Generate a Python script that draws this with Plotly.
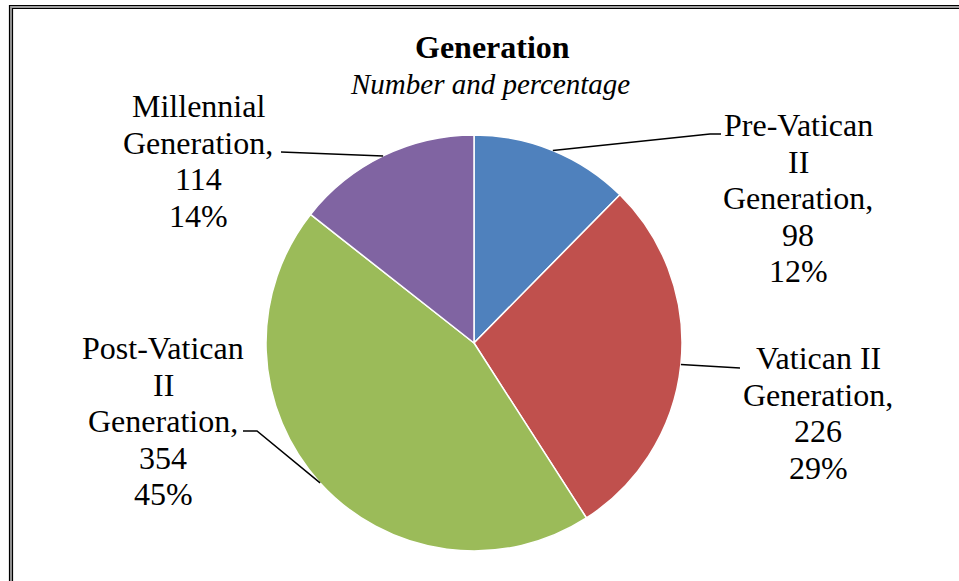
import math
import plotly.graph_objects as go

# ---- data ----
categories = ["Pre-Vatican II Generation", "Vatican II Generation",
              "Post-Vatican II Generation", "Millennial Generation"]
values = [98, 226, 354, 114]
percents = ["12%", "29%", "45%", "14%"]
label_lines = [
    ["Pre-Vatican", "II", "Generation,"],
    ["Vatican II", "Generation,"],
    ["Post-Vatican", "II", "Generation,"],
    ["Millennial", "Generation,"],
]
colors = ["#4F81BD", "#C0504D", "#9BBB59", "#8064A2"]

W, H = 959, 581
FONT = "Liberation Serif, Times New Roman, serif"

# pie geometry (screen pixels)
CX, CY, R = 474, 343, 208

def px(x):
    return x / W

def py(y):
    return 1 - y / H

fig = go.Figure()
fig.add_trace(go.Pie(
    labels=categories, values=values, sort=False, direction="clockwise",
    rotation=0, textinfo="none", showlegend=False,
    marker=dict(colors=colors, line=dict(color="white", width=1.5)),
    domain=dict(x=[px(CX - R), px(CX + R)], y=[py(CY + R), py(CY - R)]),
))

# label layout: (center x, first line y, elbow point, end point)
label_pos = [
    dict(x=798, y=125, elbow=(710, 134), end=(721, 134)),
    dict(x=818, y=358, elbow=(740, 368), end=(740, 368)),
    dict(x=163, y=348, elbow=(257, 431), end=(243, 431)),
    dict(x=198, y=106, elbow=(281, 152), end=(281, 152)),
]
LINE_H = 36.6

annotations = []
shapes = []
total = sum(values)
cum = 0
for i, v in enumerate(values):
    mid = (cum + v / 2) / total * 2 * math.pi
    cum += v
    ex = CX + R * math.sin(mid)
    ey = CY - R * math.cos(mid)
    lp = label_pos[i]
    lines = label_lines[i] + [str(v), percents[i]]
    for k, t in enumerate(lines):
        annotations.append(dict(
            x=px(lp["x"]), y=py(lp["y"] + k * LINE_H), xref="paper", yref="paper",
            text=t, showarrow=False, xanchor="center", yanchor="middle",
            font=dict(family=FONT, size=32, color="black")))
    pts = [(ex, ey), lp["elbow"], lp["end"]]
    path = "M {} {}".format(px(pts[0][0]), py(pts[0][1]))
    for p in pts[1:]:
        path += " L {} {}".format(px(p[0]), py(p[1]))
    shapes.append(dict(type="path", path=path, xref="paper", yref="paper",
                       line=dict(color="black", width=1.5)))

# title
annotations.append(dict(x=px(492), y=py(47), xref="paper", yref="paper",
                        text="<b>Generation</b>", showarrow=False,
                        xanchor="center", yanchor="middle",
                        font=dict(family=FONT, size=32, color="black")))
annotations.append(dict(x=px(490), y=py(84), xref="paper", yref="paper",
                        text="<i>Number and percentage</i>", showarrow=False,
                        xanchor="center", yanchor="middle",
                        font=dict(family=FONT, size=29, color="black")))

# double frame (extends past the right and bottom edges)
shapes.append(dict(type="rect", xref="paper", yref="paper",
                   x0=px(11), y0=py(7), x1=px(1000), y1=py(1000),
                   line=dict(color="#A0A0A0", width=3)))
shapes.append(dict(type="rect", xref="paper", yref="paper",
                   x0=px(9.5), y0=py(5.5), x1=px(1000), y1=py(1000),
                   line=dict(color="black", width=1.2)))
shapes.append(dict(type="rect", xref="paper", yref="paper",
                   x0=px(12.5), y0=py(8.5), x1=px(1000), y1=py(1000),
                   line=dict(color="black", width=1.2)))

fig.update_layout(
    width=W, height=H, margin=dict(l=0, r=0, t=0, b=0),
    paper_bgcolor="white", plot_bgcolor="white",
    annotations=annotations, shapes=shapes,
)
fig.write_html(
    "out.html",
    config={"displayModeBar": False},
    post_script="document.body.style.margin='0';document.body.style.overflow='hidden';",
)
